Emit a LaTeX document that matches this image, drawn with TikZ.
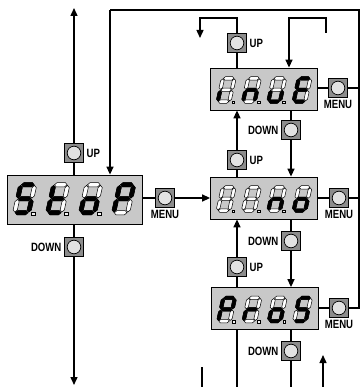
\documentclass[tikz,border=0pt]{standalone}
\usepackage{fontspec}
\newfontfamily\lblfont[FakeStretch=0.8]{Liberation Sans}
\usetikzlibrary{arrows.meta}
\definecolor{dispgray}{HTML}{C8C8C8}
\definecolor{btngray}{HTML}{8C8C8C}
\definecolor{circgray}{HTML}{E2E2E2}
% seven-segment shapes (local units, y up)
\def\sgpa{(1.4,17)--(2.6,18.2)--(7.4,18.2)--(8.6,17)--(7.4,15.8)--(2.6,15.8)--cycle}
\def\sgpg{(1.4,9)--(2.6,10.2)--(7.4,10.2)--(8.6,9)--(7.4,7.8)--(2.6,7.8)--cycle}
\def\sgpd{(1.4,1)--(2.6,2.2)--(7.4,2.2)--(8.6,1)--(7.4,-0.2)--(2.6,-0.2)--cycle}
\def\sgpf{(1,9.4)--(2.2,10.6)--(2.2,15.4)--(1,16.6)--(-0.2,15.4)--(-0.2,10.6)--cycle}
\def\sgpe{(1,1.4)--(2.2,2.6)--(2.2,7.4)--(1,8.6)--(-0.2,7.4)--(-0.2,2.6)--cycle}
\def\sgpb{(9,9.4)--(10.2,10.6)--(10.2,15.4)--(9,16.6)--(7.8,15.4)--(7.8,10.6)--cycle}
\def\sgpc{(9,1.4)--(10.2,2.6)--(10.2,7.4)--(9,8.6)--(7.8,7.4)--(7.8,2.6)--cycle}
\def\sgpz{(0,0)}
\newcommand\sevseg[5]{%
 \begin{scope}[shift={(#1,#2)},x={(#3pt,0pt)},y={({0.22*#3pt},{#3pt})}]
  \foreach \s in {a,b,c,d,e,f,g}{%
    \expandafter\let\expandafter\sgcur\csname sgp\s\endcsname
    \draw[segoff] \sgcur;}
  \foreach \s in {#4}{%
    \expandafter\let\expandafter\sgcur\csname sgp\s\endcsname
    \filldraw[segon] \sgcur;}
  \ifnum#5=1 \draw[segoff,fill=white!90!gray] (11,-0.2) rectangle (12.5,1.3);\fi
 \end{scope}}
\begin{document}
\begin{tikzpicture}[x=1pt,y=-1pt,line width=1.4pt,
  segoff/.style={draw=black,fill=white,line width=0.5pt},
  segon/.style={fill=black,draw=black,line width=0.5pt},
  disp/.style={draw,fill=dispgray,line width=0.8pt,inner sep=0pt,rectangle},
  btn/.style={draw,fill=btngray,line width=0.8pt,minimum size=19pt,inner sep=0pt,rectangle,
    path picture={\draw[fill=circgray,line width=0.7pt] (path picture bounding box.center) circle (6.8pt);}},
  lbl/.style={font=\lblfont\bfseries\fontsize{12}{12}\selectfont,inner sep=0pt},
  arr/.style={-{Triangle[length=8pt,width=7pt]}}]
\useasboundingbox (0,0) rectangle (361,387);
% displays
\node[disp,minimum width=135pt,minimum height=49pt] (stop) at (74.5,199.5) {};
\node[disp,minimum width=107pt,minimum height=42pt] (inue) at (264,89) {};
\node[disp,minimum width=107pt,minimum height=42pt] (nono) at (264,198) {};
\node[disp,minimum width=107pt,minimum height=42pt] (pros) at (264.5,308.5) {};
% digits
\sevseg{12.5}{214.5}{1.75}{a,f,g,c,d}{1}
\sevseg{45.5}{214.5}{1.75}{f,e,g,d}{1}
\sevseg{78.5}{214.5}{1.75}{g,e,d,c}{1}
\sevseg{111.5}{214.5}{1.75}{a,b,f,g,e}{0}
\sevseg{216}{103}{1.45}{e}{1}
\sevseg{241.3}{103}{1.45}{g,e,c}{1}
\sevseg{266.6}{103}{1.45}{e,d,c}{1}
\sevseg{291.9}{103}{1.45}{a,f,g,e,d}{0}
\sevseg{216}{212}{1.45}{z}{1}
\sevseg{241.3}{212}{1.45}{z}{1}
\sevseg{266.6}{212}{1.45}{g,e,c}{1}
\sevseg{291.9}{212}{1.45}{g,e,d,c}{0}
\sevseg{216.5}{322.5}{1.45}{a,b,f,g,e}{1}
\sevseg{241.8}{322.5}{1.45}{g,e}{1}
\sevseg{267.1}{322.5}{1.45}{g,e,d,c}{1}
\sevseg{292.4}{322.5}{1.45}{a,f,g,c,d}{0}
% buttons
\node[btn] (mup) at (74,153) {};
\node[btn] (mdown) at (74,247) {};
\node[btn] (mmenu) at (165,198) {};
\node[btn] (t1up) at (237,43) {};
\node[btn] (t1menu) at (338,88) {};
\node[btn] (d12) at (291,130) {};
\node[btn] (u12) at (237,160) {};
\node[btn] (m2menu) at (339,198) {};
\node[btn] (d23) at (291,241) {};
\node[btn] (u23) at (237,267) {};
\node[btn] (m3menu) at (339,308) {};
\node[btn] (d3) at (291,351) {};
% labels
\node[lbl,anchor=west] (lmup) at ([xshift=2pt]mup.east) {UP};
\node[lbl,anchor=east] (lmdown) at ([xshift=-2pt]mdown.west) {DOWN};
\node[lbl,anchor=north] (lmmenu) at ([yshift=-2pt]mmenu.south) {MENU};
\node[lbl,anchor=west] (lt1up) at ([xshift=2pt]t1up.east) {UP};
\node[lbl,anchor=north] (lt1menu) at ([yshift=-2pt]t1menu.south) {MENU};
\node[lbl,anchor=east] (ld12) at ([xshift=-2pt]d12.west) {DOWN};
\node[lbl,anchor=west] (lu12) at ([xshift=2pt]u12.east) {UP};
\node[lbl,anchor=north] (lm2menu) at ([yshift=-2pt]m2menu.south) {MENU};
\node[lbl,anchor=east] (ld23) at ([xshift=-2pt]d23.west) {DOWN};
\node[lbl,anchor=west] (lu23) at ([xshift=2pt]u23.east) {UP};
\node[lbl,anchor=north] (lm3menu) at ([yshift=-2pt]m3menu.south) {MENU};
\node[lbl,anchor=east] (ld3) at ([xshift=-2pt]d3.west) {DOWN};
% free-end coordinates
\coordinate (topL) at (74,8);
\coordinate (botL) at (74,385);
\coordinate (tl) at (110,10);
\coordinate (tr) at (359,10);
\coordinate (rr) at (359,308);
\coordinate (t1a) at (237,18);
\coordinate (t1b) at (200,18);
\coordinate (t1c) at (200,38);
\coordinate (t2a) at (326,33);
\coordinate (t2b) at (326,18);
\coordinate (t2c) at (289,18);
\coordinate (b1) at (237,390);
\coordinate (b2) at (291,390);
\coordinate (b3a) at (202,367);
\coordinate (b3b) at (202,390);
\coordinate (b4a) at (323,390);
\coordinate (b4b) at (323,355);
% connectors
\draw (stop.north -| mup) -- (mup.south);
\draw[arr] (mup.north) -- (topL);
\draw[arr] (tl) -- (tl |- stop.north);
\draw (tl) -- (tr) -- (rr) -- (m3menu.east);
\draw (stop.south -| mdown) -- (mdown.north);
\draw[arr] (mdown.south) -- (botL);
\draw (stop.east |- mmenu) -- (mmenu.west);
\draw[arr] (mmenu.east) -- (nono.west |- mmenu);
\draw (inue.north -| t1up) -- (t1up.south);
\draw[arr] (t1up.north) -- (t1a) -- (t1b) -- (t1c);
\draw[arr] (t2a) -- (t2b) -- (t2c) -- (t2c |- inue.north);
\draw (inue.east |- t1menu) -- (t1menu.west);
\draw (t1menu.east) -- (t1menu -| tr);
\draw (inue.south -| d12) -- (d12.north);
\draw[arr] (d12.south) -- (nono.north -| d12);
\draw (nono.north -| u12) -- (u12.south);
\draw[arr] (u12.north) -- (inue.south -| u12);
\draw (nono.east |- m2menu) -- (m2menu.west);
\draw (m2menu.east) -- (m2menu -| tr);
\draw (nono.south -| d23) -- (d23.north);
\draw[arr] (d23.south) -- (pros.north -| d23);
\draw (pros.north -| u23) -- (u23.south);
\draw[arr] (u23.north) -- (nono.south -| u23);
\draw (pros.east |- m3menu) -- (m3menu.west);
\draw (pros.south -| u23) -- (b1);
\draw (pros.south -| d3) -- (d3.north);
\draw (d3.south) -- (b2);
\draw (b3a) -- (b3b);
\draw[arr] (b4a) -- (b4b);
\end{tikzpicture}
\end{document}
